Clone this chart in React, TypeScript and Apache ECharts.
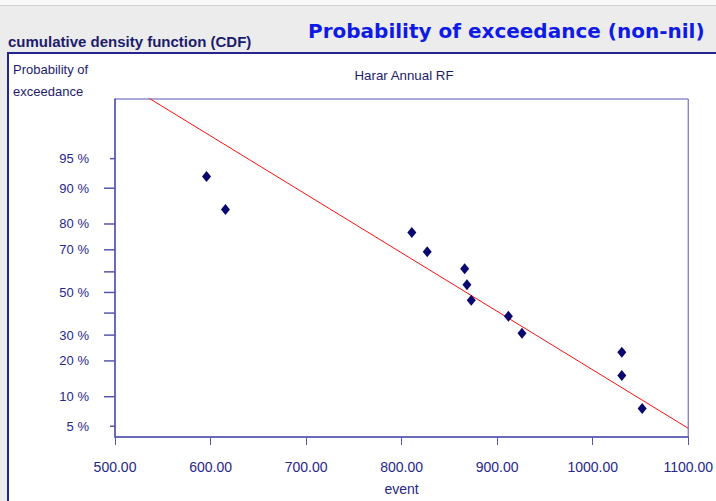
import React, { useEffect, useRef } from "react";
import * as echarts from "echarts";

// Data
const rainfall = [595.8, 615.6, 810.7, 826.8, 866.0, 868.4, 872.9, 911.8, 926.0, 1030.5, 1030.5, 1051.8];
const exceedancePct = [92.3, 84.6, 76.9, 69.2, 61.5, 53.8, 46.2, 38.5, 30.8, 23.1, 15.4, 7.7];
const fitLineX = [500, 1100];
const fitLinePct = [99.59, 4.75];
const yTickPct = [95, 90, 80, 70, 60, 50, 40, 30, 20, 10, 5];
const yTickLabels = ["95 %", "90 %", "80 %", "70 %", "", "50 %", "", "30 %", "20 %", "10 %", "5 %"];
const yTickShort = [true, false, false, false, false, false, false, false, false, false, true];
const yRangePct = [3.78, 99.13];
const xTicks = [500, 600, 700, 800, 900, 1000, 1100];

// inverse standard normal CDF (Acklam)
function probit(p: number): number {
  const a = [-3.969683028665376e1, 2.209460984245205e2, -2.759285104469687e2, 1.38357751867269e2, -3.066479806614716e1, 2.506628277459239];
  const b = [-5.447609879822406e1, 1.615858368580409e2, -1.556989798598866e2, 6.680131188771972e1, -1.328068155288572e1];
  const c = [-7.784894002430293e-3, -3.223964580411365e-1, -2.400758277161838, -2.549732539343734, 4.374664141464968, 2.938163982698783];
  const d = [7.784695709041462e-3, 3.224671290700398e-1, 2.445134137142996, 3.754408661907416];
  const pl = 0.02425;
  if (p < pl) {
    const q = Math.sqrt(-2 * Math.log(p));
    return (((((c[0] * q + c[1]) * q + c[2]) * q + c[3]) * q + c[4]) * q + c[5]) / ((((d[0] * q + d[1]) * q + d[2]) * q + d[3]) * q + 1);
  }
  if (p > 1 - pl) {
    const q = Math.sqrt(-2 * Math.log(1 - p));
    return -(((((c[0] * q + c[1]) * q + c[2]) * q + c[3]) * q + c[4]) * q + c[5]) / ((((d[0] * q + d[1]) * q + d[2]) * q + d[3]) * q + 1);
  }
  const q = p - 0.5;
  const r = q * q;
  return ((((((a[0] * r + a[1]) * r + a[2]) * r + a[3]) * r + a[4]) * r + a[5]) * q) / (((((b[0] * r + b[1]) * r + b[2]) * r + b[3]) * r + b[4]) * r + 1);
}
const z = (pct: number) => probit(pct / 100);

const SANS = "'Liberation Sans', Arial, sans-serif";
const AXIS = "#5656b0";
const LABEL = "#26268c";

export default function App() {
  const ref = useRef<HTMLDivElement>(null);
  useEffect(() => {
    if (!ref.current) return;
    const chart = echarts.init(ref.current, undefined, { renderer: "svg" });
    const xMin = xTicks[0];
    const option: any = {
      animation: false,
      backgroundColor: "#ffffff",
      graphic: [
        { type: "rect", z: -10, shape: { x: 0, y: 0, width: 716, height: 53 }, style: { fill: "#ececec" } },
        { type: "rect", z: -10, shape: { x: 0, y: 0, width: 716, height: 5 }, style: { fill: "#f8f8f8" } },
        { type: "line", z: -9, shape: { x1: 0, y1: 5.5, x2: 716, y2: 5.5 }, style: { stroke: "#d2d2d2", lineWidth: 1 } },
        { type: "rect", z: -10, shape: { x: 0, y: 53, width: 8, height: 448 }, style: { fill: "#ececec" } },
        { type: "line", z: 50, shape: { x1: 7, y1: 53, x2: 716, y2: 53 }, style: { stroke: "#25258f", lineWidth: 2 } },
        { type: "line", z: 50, shape: { x1: 8, y1: 53, x2: 8, y2: 501 }, style: { stroke: "#25258f", lineWidth: 2 } },
        {
          type: "text", z: 50, x: 8, y: 41,
          style: { text: "cumulative density function (CDF)", fill: "#1c1c6c", fontFamily: SANS, fontWeight: "bold", fontSize: 15, verticalAlign: "middle", align: "left" },
        },
        {
          type: "text", z: 50, x: 308, y: 31,
          style: { text: "Probability of exceedance (non-nil)", fill: "#0f1ae6", fontFamily: "'DejaVu Sans', sans-serif", fontWeight: "bold", fontSize: 20, verticalAlign: "middle", align: "left" },
        },
        {
          type: "text", z: 50, x: 13, y: 69,
          style: { text: "Probability of", fill: "#1c1c6c", fontFamily: SANS, fontSize: 13, verticalAlign: "middle", align: "left" },
        },
        {
          type: "text", z: 50, x: 13, y: 91,
          style: { text: "exceedance", fill: "#1c1c6c", fontFamily: SANS, fontSize: 13, verticalAlign: "middle", align: "left" },
        },
        {
          type: "text", z: 50, x: 404, y: 75,
          style: { text: "Harar Annual RF", fill: "#1c1c6c", fontFamily: SANS, fontSize: 13.3, verticalAlign: "middle", align: "center" },
        },
      ],
      grid: { left: 115, top: 99, width: 576, height: 338, show: true, borderColor: AXIS, borderWidth: 1, backgroundColor: "#ffffff" },
      xAxis: {
        type: "value",
        min: 500,
        max: 1100,
        interval: 100,
        axisLine: { show: true, onZero: false, lineStyle: { color: AXIS, width: 1.5 } },
        axisTick: { show: true, length: 8, lineStyle: { color: AXIS } },
        splitLine: { show: false },
        axisLabel: { color: LABEL, fontFamily: SANS, fontSize: 14, margin: 23, formatter: (v: number) => v.toFixed(2) },
        name: "event",
        nameLocation: "middle",
        nameGap: 45,
        nameTextStyle: { color: LABEL, fontFamily: SANS, fontSize: 14 },
      },
      yAxis: {
        type: "value",
        min: z(yRangePct[0]),
        max: z(yRangePct[1]),
        axisLine: { show: true, onZero: false, lineStyle: { color: AXIS, width: 1.5 } },
        axisTick: { show: false },
        axisLabel: { show: false },
        splitLine: { show: false },
      },
      series: [
        {
          type: "line",
          data: fitLineX.map((x, i) => [x, z(fitLinePct[i])]),
          symbol: "none",
          lineStyle: { color: "#ff1010", width: 1 },
          clip: true,
          z: 3,
        },
        {
          type: "scatter",
          data: rainfall.map((x, i) => [x, z(exceedancePct[i])]),
          symbol: "diamond",
          symbolSize: [9, 11],
          itemStyle: { color: "#08086e", opacity: 1 },
          z: 4,
        },
        {
          type: "custom",
          coordinateSystem: "cartesian2d",
          clip: false,
          silent: true,
          data: yTickPct.map((p) => [xMin, z(p)]),
          encode: { x: 0, y: 1 },
          renderItem: (params: any, api: any) => {
            const i = params.dataIndex;
            const pt = api.coord([api.value(0), api.value(1)]);
            const len = yTickShort[i] ? 5 : 11;
            return {
              type: "group",
              children: [
                { type: "line", shape: { x1: pt[0] - len, y1: pt[1], x2: pt[0], y2: pt[1] }, style: { stroke: AXIS, lineWidth: 1.5 } },
                {
                  type: "text",
                  style: { text: yTickLabels[i], x: pt[0] - 26, y: pt[1], align: "right", verticalAlign: "middle", fill: LABEL, fontFamily: SANS, fontSize: 13 },
                },
              ],
            };
          },
        },
      ],
    };
    chart.setOption(option);
    return () => chart.dispose();
  }, []);
  return <div ref={ref} style={{ position: "fixed", left: 0, top: 0, width: 716, height: 501 }} />;
}
